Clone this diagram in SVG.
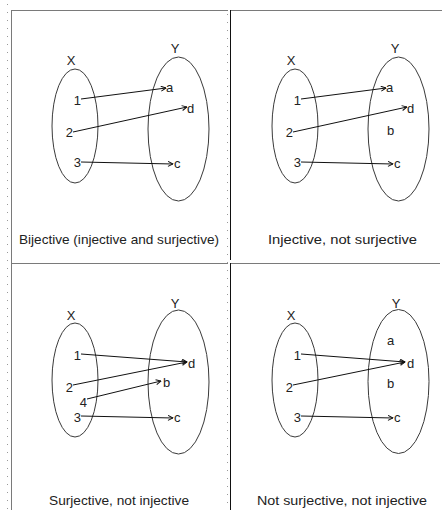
<svg xmlns="http://www.w3.org/2000/svg" width="442" height="510" viewBox="0 0 442 510">
<style>
.set{fill:none;stroke:#3a3a3a;stroke-width:1}
.lbl{font-family:"Liberation Sans",Arial,sans-serif;font-size:13px;fill:#222}
.cap{font-family:"Liberation Sans",Arial,sans-serif;font-size:13px;fill:#222;text-anchor:middle}
.mid{text-anchor:middle}
.end{text-anchor:end}
.ar{fill:none;stroke:#111;stroke-width:1;marker-end:url(#ah)}
.bd{stroke:#7a7a7a;stroke-width:1;fill:none}
.dot{stroke:#999;stroke-width:1;stroke-dasharray:1 7;fill:none}
</style>
<defs>
<marker id="ah" viewBox="0 0 6 6" refX="5.5" refY="3" markerWidth="6" markerHeight="6" markerUnits="userSpaceOnUse" orient="auto">
<path d="M0.5,0.5 L5.5,3 L0.5,5.5" fill="none" stroke="#111" stroke-width="1"/>
</marker>
</defs>
<rect width="442" height="510" fill="#fff"/>
<g id="frames">
<line class="dot" x1="7.5" y1="4" x2="7.5" y2="510"/>
<line class="dot" x1="227.5" y1="14" x2="227.5" y2="510"/>
<line class="bd" x1="11" y1="10.5" x2="228" y2="10.5"/>
<line class="bd" x1="230" y1="10.5" x2="442" y2="10.5"/>
<line class="bd" x1="11" y1="263.5" x2="228" y2="263.5"/>
<line class="bd" x1="230" y1="263.5" x2="440" y2="263.5"/>
<line class="bd" x1="11.5" y1="10" x2="11.5" y2="510"/>
<line x1="230.5" y1="10" x2="230.5" y2="260" stroke="#111" stroke-width="1"/>
<line x1="230.5" y1="263" x2="230.5" y2="510" stroke="#111" stroke-width="1"/>
</g>

<!-- Panel 1 -->
<g id="p1-X"><ellipse class="set" cx="75" cy="126" rx="23" ry="57"/><text class="lbl mid" x="71" y="65">X</text></g>
<g id="p1-Y"><ellipse class="set" cx="178.5" cy="129" rx="30.5" ry="72"/><text class="lbl mid" x="175" y="53">Y</text></g>
<g id="p1-1"><text class="lbl end" x="81" y="105">1</text></g>
<g id="p1-2"><text class="lbl end" x="73" y="137">2</text></g>
<g id="p1-3"><text class="lbl end" x="81" y="167">3</text></g>
<g id="p1-a"><text class="lbl" x="166" y="92">a</text></g>
<g id="p1-d"><text class="lbl" x="187" y="113">d</text></g>
<g id="p1-c"><text class="lbl" x="174" y="168">c</text></g>
<text class="cap" x="119" y="244" textLength="200" lengthAdjust="spacingAndGlyphs">Bijective (injective and surjective)</text>

<!-- Panel 2 -->
<g id="p2-X"><ellipse class="set" cx="295" cy="126" rx="23" ry="57"/><text class="lbl mid" x="291" y="65">X</text></g>
<g id="p2-Y"><ellipse class="set" cx="398.5" cy="129" rx="30.5" ry="72"/><text class="lbl mid" x="395" y="53">Y</text></g>
<g id="p2-1"><text class="lbl end" x="301" y="105">1</text></g>
<g id="p2-2"><text class="lbl end" x="293" y="137">2</text></g>
<g id="p2-3"><text class="lbl end" x="301" y="167">3</text></g>
<g id="p2-a"><text class="lbl" x="386" y="92">a</text></g>
<g id="p2-d"><text class="lbl" x="407" y="113">d</text></g>
<g id="p2-b"><text class="lbl" x="387" y="135">b</text></g>
<g id="p2-c"><text class="lbl" x="394" y="168">c</text></g>
<text class="cap" x="342.5" y="244" textLength="149" lengthAdjust="spacingAndGlyphs">Injective, not surjective</text>

<!-- Panel 3 -->
<g id="p3-X"><ellipse class="set" cx="75" cy="380" rx="23" ry="57"/><text class="lbl mid" x="71" y="320">X</text></g>
<g id="p3-Y"><ellipse class="set" cx="178.5" cy="382" rx="30.5" ry="72"/><text class="lbl mid" x="175" y="308">Y</text></g>
<g id="p3-1"><text class="lbl end" x="81" y="360">1</text></g>
<g id="p3-2"><text class="lbl end" x="73" y="392">2</text></g>
<g id="p3-4"><text class="lbl end" x="87" y="407">4</text></g>
<g id="p3-3"><text class="lbl end" x="81" y="422">3</text></g>
<g id="p3-d"><text class="lbl" x="188" y="368">d</text></g>
<g id="p3-b"><text class="lbl" x="163" y="387">b</text></g>
<g id="p3-c"><text class="lbl" x="174" y="422">c</text></g>
<text class="cap" x="119" y="505" textLength="140" lengthAdjust="spacingAndGlyphs">Surjective, not injective</text>

<!-- Panel 4 -->
<g id="p4-X"><ellipse class="set" cx="295" cy="380" rx="23" ry="57"/><text class="lbl mid" x="291" y="320">X</text></g>
<g id="p4-Y"><ellipse class="set" cx="398.5" cy="381.5" rx="30.5" ry="72"/><text class="lbl mid" x="396" y="308">Y</text></g>
<g id="p4-1"><text class="lbl end" x="301" y="360">1</text></g>
<g id="p4-2"><text class="lbl end" x="293" y="392">2</text></g>
<g id="p4-3"><text class="lbl end" x="301" y="422">3</text></g>
<g id="p4-a"><text class="lbl" x="387" y="345">a</text></g>
<g id="p4-d"><text class="lbl" x="407" y="368">d</text></g>
<g id="p4-b"><text class="lbl" x="387" y="388">b</text></g>
<g id="p4-c"><text class="lbl" x="394" y="422">c</text></g>
<text class="cap" x="342" y="505" textLength="170" lengthAdjust="spacingAndGlyphs">Not surjective, not injective</text>

<g id="connectors">
<line class="ar" x1="81" y1="99" x2="166" y2="88"/>
<line class="ar" x1="73" y1="132" x2="187" y2="107"/>
<line class="ar" x1="81" y1="162" x2="173" y2="164"/>

<line class="ar" x1="301" y1="99" x2="386" y2="88"/>
<line class="ar" x1="293" y1="132" x2="407" y2="107"/>
<line class="ar" x1="301" y1="162" x2="393" y2="164"/>

<line class="ar" x1="81" y1="354" x2="187" y2="362"/>
<line class="ar" x1="73" y1="385" x2="187" y2="362"/>
<line class="ar" x1="87" y1="399" x2="161" y2="381"/>
<line class="ar" x1="81" y1="416" x2="173" y2="418"/>

<line class="ar" x1="301" y1="354" x2="405" y2="362"/>
<line class="ar" x1="293" y1="385" x2="405" y2="362"/>
<line class="ar" x1="301" y1="416" x2="393" y2="418"/>
</g>
</svg>
